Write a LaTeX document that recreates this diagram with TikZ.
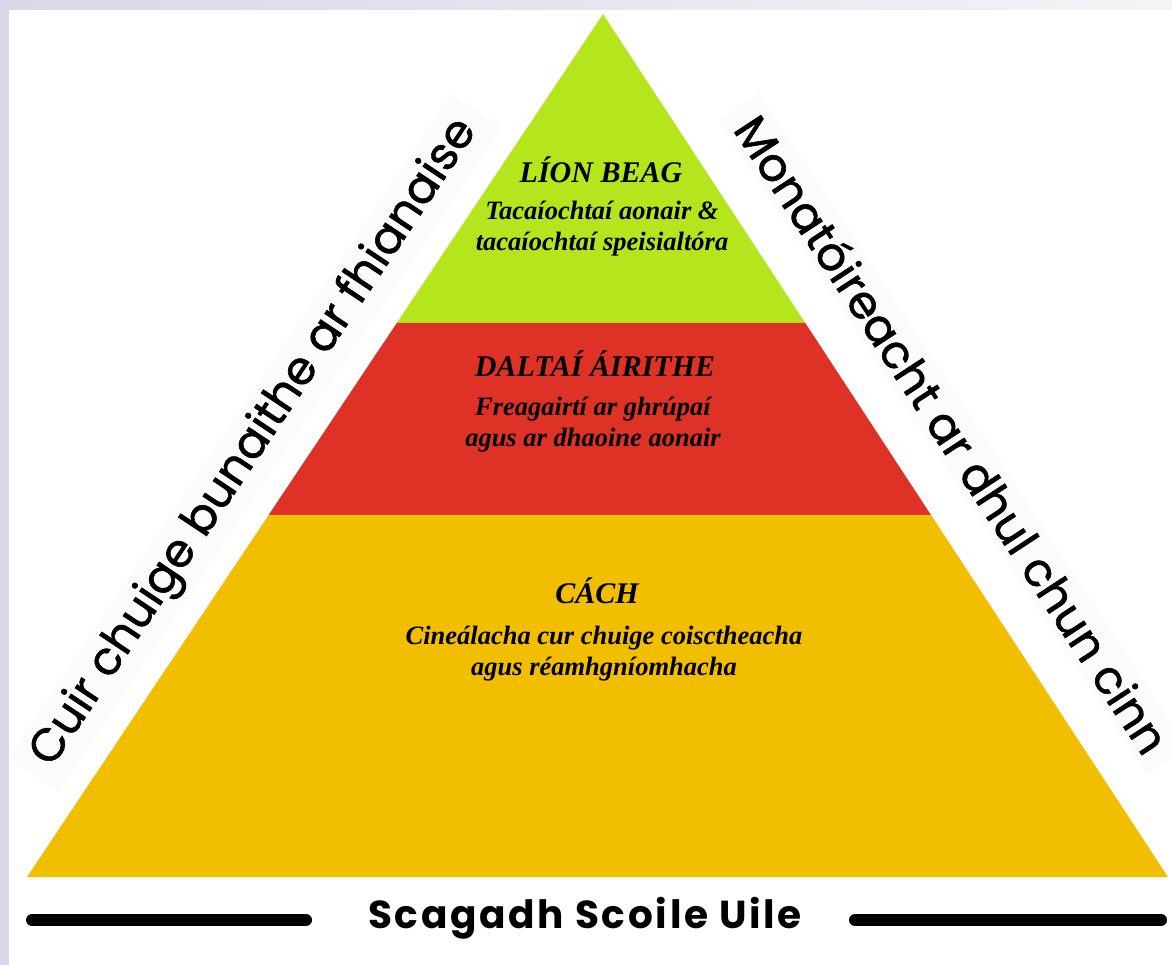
\documentclass[tikz,border=0pt]{standalone}
\usepackage{fontspec}
\setmainfont{Liberation Serif}
\newfontfamily\handfont[FakeBold=1.2]{Poppins}
\newfontfamily\basefont[LetterSpace=7]{Poppins}
\usetikzlibrary{calc}
\definecolor{lime}{RGB}{181,230,29}
\definecolor{pyred}{RGB}{222,50,39}
\definecolor{amber}{RGB}{241,190,0}
\definecolor{frame}{RGB}{216,216,232}
\tikzset{
  head/.style={font=\fontsize{30}{32}\selectfont\bfseries\itshape},
  body/.style={font=\fontsize{26.5}{31}\selectfont\bfseries\itshape, align=center},
  side/.style={font=\fontsize{46}{50}\selectfont\handfont, fill=black!1.5,
    inner xsep=16pt, inner ysep=6pt},
  rule/.style={line width=12pt, line cap=round},
}

\begin{document}
\begin{tikzpicture}[x=1pt, y=-1pt]
\useasboundingbox (0,0) rectangle (1172,965);
% lavender frame top and left
\fill[frame] (0,0) rectangle (1172,965);
\shade[left color=frame, right color=frame!30] (9,0) rectangle (1172,10);
\fill[white] (9,10) rectangle (1172,965);

% side captions on faint bands
\node[side, rotate=56.3] (evid) at (255,443) {Cuir chuige bunaithe ar fhianaise};
\node[side, rotate=-56.8] (monit) at (953,434) {Monatóireacht ar dhul chun cinn};

% pyramid
\coordinate (apex) at (603,14);
\coordinate (baseL) at (27,877);
\coordinate (baseR) at (1168,877);
\coordinate (gL) at ($(apex)!0.358!(baseL)$);
\coordinate (gR) at ($(apex)!0.358!(baseR)$);
\coordinate (rL) at ($(apex)!0.5805!(baseL)$);
\coordinate (rR) at ($(apex)!0.5805!(baseR)$);
\fill[lime] (apex) -- (gL) -- (gR) -- cycle;
\fill[pyred] (gL) -- (rL) -- (rR) -- (gR) -- cycle;
\fill[amber] (rL) -- (baseL) -- (baseR) -- (rR) -- cycle;

% tiers
\node[head] (lion) at (601,170) {LÍON BEAG};
\node[body] (lionsub) at (602,229) {Tacaíochtaí aonair \&\\ tacaíochtaí speisialtóra};
\node[head] (dalta) at (595,364) {DALTAÍ ÁIRITHE};
\node[body] (daltasub) at (593,425) {Freagairtí ar ghrúpaí\\ agus ar dhaoine aonair};
\node[head] (cach) at (597,591) {CÁCH};
\node[body] (cachsub) at (604,654) {Cineálacha cur chuige coisctheacha\\ agus réamhgníomhacha};

% base caption
\node[font=\fontsize{39}{42}\selectfont\basefont\bfseries] (scag) at (585,918) {Scagadh Scoile Uile};
\coordinate (ruleL) at (32,920);
\coordinate (ruleLend) at (306,920);
\coordinate (ruleRend) at (855,920);
\coordinate (ruleR) at (1161,920);
\draw[rule] (ruleL) -- (ruleLend);
\draw[rule] (ruleRend) -- (ruleR);
\end{tikzpicture}
\end{document}
